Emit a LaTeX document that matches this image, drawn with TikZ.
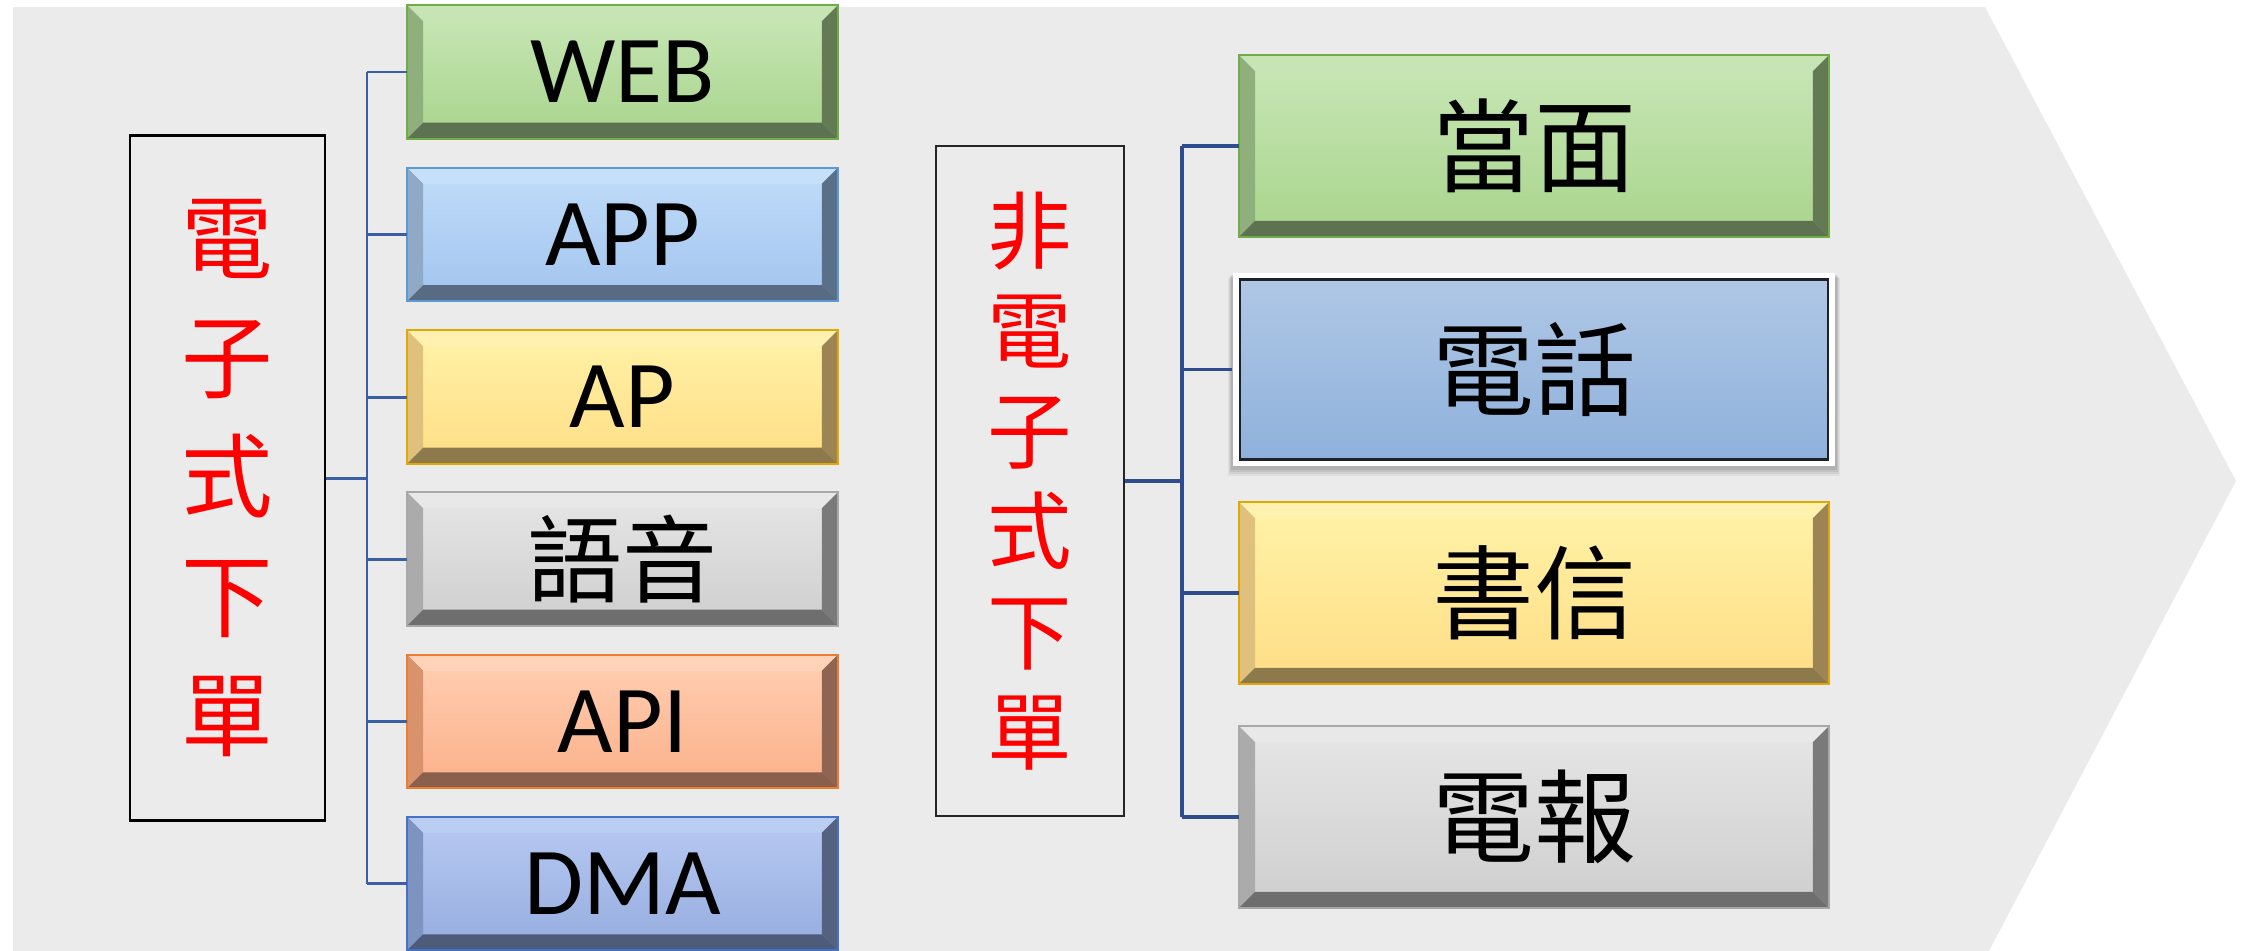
\documentclass[tikz,border=0pt]{standalone}
\usepackage{fontspec}
\setmainfont{Carlito}
\newfontfamily\cjk{Noto Sans CJK TC}
\usetikzlibrary{calc}
\definecolor{bgc}{HTML}{EBEBEB}
\definecolor{conn}{HTML}{3C5FA3}
\definecolor{connR}{HTML}{2E4D8E}
% green
\definecolor{gT}{HTML}{C9E7B7}\definecolor{gB}{HTML}{A8D48C}
\definecolor{gTop}{HTML}{C6E4B4}\definecolor{gL}{HTML}{8FAF7C}\definecolor{gR}{HTML}{637A54}\definecolor{gBot}{HTML}{5D7250}\definecolor{gBd}{HTML}{70AD47}
% blue
\definecolor{bT}{HTML}{C0DCF8}\definecolor{bB}{HTML}{A2C4EE}
\definecolor{bTop}{HTML}{C6E0FA}\definecolor{bL}{HTML}{8FA9C7}\definecolor{bR}{HTML}{5A7088}\definecolor{bBot}{HTML}{596B83}\definecolor{bBd}{HTML}{5B9BD5}
% yellow
\definecolor{yT}{HTML}{FFF3A8}\definecolor{yB}{HTML}{FFDD85}
\definecolor{yTop}{HTML}{FFF1B0}\definecolor{yL}{HTML}{DFC07C}\definecolor{yR}{HTML}{9C8455}\definecolor{yBot}{HTML}{8C7A4C}\definecolor{yBd}{HTML}{E0A800}
% gray
\definecolor{hT}{HTML}{E6E6E6}\definecolor{hB}{HTML}{CECECE}
\definecolor{hTop}{HTML}{E8E8E8}\definecolor{hL}{HTML}{ABABAB}\definecolor{hR}{HTML}{7A7A7A}\definecolor{hBot}{HTML}{6E6E6E}\definecolor{hBd}{HTML}{A8A8A8}
% orange
\definecolor{oT}{HTML}{FFCFB2}\definecolor{oB}{HTML}{FBB08A}
\definecolor{oTop}{HTML}{FFD3B8}\definecolor{oL}{HTML}{D9936C}\definecolor{oR}{HTML}{8F6452}\definecolor{oBot}{HTML}{8A604D}\definecolor{oBd}{HTML}{ED7D31}
% dma blue
\definecolor{dT}{HTML}{B8CAF3}\definecolor{dB}{HTML}{95ACDE}
\definecolor{dTop}{HTML}{BCCDF4}\definecolor{dL}{HTML}{7F93C0}\definecolor{dR}{HTML}{55627F}\definecolor{dBot}{HTML}{4F5B7A}\definecolor{dBd}{HTML}{4472C4}
% phone box
\definecolor{pT}{HTML}{AFC7E5}\definecolor{pB}{HTML}{8FB1DC}\definecolor{pBd}{HTML}{1E2228}

\newcommand\mybevel[6]{%
  \fill[#2] (#1.north west) -- (#1.north east) -- ($(#1.north east)+(-16,16)$) -- ($(#1.north west)+(16,16)$) -- cycle;
  \fill[#3] (#1.north west) -- ($(#1.north west)+(16,16)$) -- ($(#1.south west)+(16,-16)$) -- (#1.south west) -- cycle;
  \fill[#4] (#1.north east) -- (#1.south east) -- ($(#1.south east)+(-16,-16)$) -- ($(#1.north east)+(-16,16)$) -- cycle;
  \fill[#5] (#1.south west) -- (#1.south east) -- ($(#1.south east)+(-16,-16)$) -- ($(#1.south west)+(16,-16)$) -- cycle;
  \draw[#6, line width=0.6pt] (#1.north west) rectangle (#1.south east);
}

\tikzset{
  lbox/.style={minimum width=4.29cm, minimum height=1.32cm, inner sep=0pt, shading=axis, font=\fontsize{27.3}{27.3}\selectfont},
  lboxc/.style={lbox, font=\cjk\fontsize{27}{27}\selectfont},
  rbox/.style={minimum width=5.88cm, minimum height=1.80cm, inner sep=0pt, shading=axis, font=\cjk\fontsize{29}{29}\selectfont},
  labbox/.style={draw=black, line width=0.75pt, fill=bgc, inner sep=0pt, align=center, text=red},
  leftconn/.style={draw=conn, line width=0.85pt},
  rightconn/.style={draw=connR, line width=1.1pt}
}

\begin{document}
\begin{tikzpicture}[x=0.01cm,y=-0.01cm]
\useasboundingbox (0,0) rectangle (2250,951);
\fill[bgc] (13,7) -- (1985,7) -- (2236,481) -- (1989,951) -- (13,951) -- cycle;

% left label
\node[labbox, minimum width=1.95cm, minimum height=6.84cm, font=\cjk\fontsize{26}{33.9}\selectfont] (el) at (227.5,478) {電\\子\\式\\下\\單};

% left boxes
\node[lbox, top color=gT, bottom color=gB] (web) at (622.5,72) {WEB};
\mybevel{web}{gTop}{gL}{gR}{gBot}{gBd}
\node[lbox, top color=bT, bottom color=bB] (app) at (622.5,234.5) {APP};
\mybevel{app}{bTop}{bL}{bR}{bBot}{bBd}
\node[lbox, top color=yT, bottom color=yB] (ap) at (622.5,397) {AP};
\mybevel{ap}{yTop}{yL}{yR}{yBot}{yBd}
\node[lboxc, top color=hT, bottom color=hB] (voice) at (622.5,559) {語音};
\mybevel{voice}{hTop}{hL}{hR}{hBot}{hBd}
\node[lbox, top color=oT, bottom color=oB] (api) at (622.5,721.5) {API};
\mybevel{api}{oTop}{oL}{oR}{oBot}{oBd}
\node[lbox, top color=dT, bottom color=dB] (dma) at (622.5,883.5) {DMA};
\mybevel{dma}{dTop}{dL}{dR}{dBot}{dBd}

% left connectors
\coordinate (ls) at (367,478);
\draw[leftconn] (web.west -| ls) -- (dma.west -| ls);
\draw[leftconn] (el.east) -- (el.east -| ls);
\foreach \n in {web,app,ap,voice,api,dma}{\draw[leftconn] (\n.west -| ls) -- (\n.west);}

% right label
\node[labbox, draw=black!85, line width=0.6pt, minimum width=1.88cm, minimum height=6.70cm, font=\cjk\fontsize{24}{28.5}\selectfont] (nl) at (1030,481) {非\\電\\子\\式\\下\\單};

% right boxes
\node[rbox, top color=gT, bottom color=gB] (face) at (1534,146) {當面};
\mybevel{face}{gTop}{gL}{gR}{gBot}{gBd}

% phone box with white outline and shadow
\foreach \o/\a in {10/0.05,8/0.06,6/0.07,4/0.08}{
  \fill[black, opacity=\a] (1233-\o/2,273+\o/2) rectangle (1835+\o/2,466+\o);
}
\fill[white] (1233,273) rectangle (1835,466);
\node[rbox, top color=pT, bottom color=pB, draw=pBd, line width=0.7pt] (phone) at (1534,369.5) {電話};

\node[rbox, top color=yT, bottom color=yB] (letter) at (1534,593) {書信};
\mybevel{letter}{yTop}{yL}{yR}{yBot}{yBd}
\node[rbox, top color=hT, bottom color=hB] (tele) at (1534,817) {電報};
\mybevel{tele}{hTop}{hL}{hR}{hBot}{hBd}

% right connectors
\coordinate (rs) at (1182,481);
\draw[rightconn] (face.west -| rs) -- (tele.west -| rs);
\draw[rightconn] (nl.east) -- (nl.east -| rs);
\draw[rightconn] (face.west -| rs) -- (face.west);
\draw[rightconn] (phone.west -| rs) -- ($(phone.west)+(-7,0)$);
\draw[rightconn] (letter.west -| rs) -- (letter.west);
\draw[rightconn] (tele.west -| rs) -- (tele.west);
\end{tikzpicture}
\end{document}
